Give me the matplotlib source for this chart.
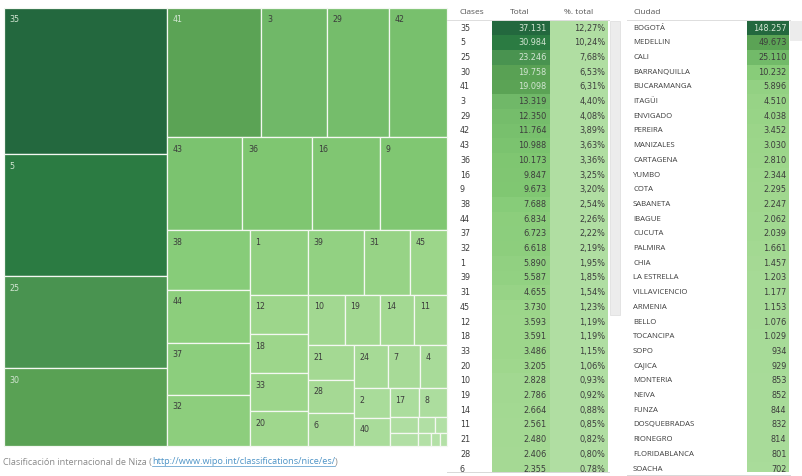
import matplotlib
matplotlib.use("Agg")
import matplotlib.pyplot as plt
from matplotlib.patches import Rectangle
from matplotlib.colors import LinearSegmentedColormap, Normalize, PowerNorm

plt.rcParams['font.family'] = ['Open Sans', 'DejaVu Sans']
NUM_FONT = ['DejaVu Sans']

# Registros por clase de Niza (ordenados de mayor a menor)
clases = [35, 5, 25, 30, 41, 3, 29, 42, 43, 36, 16, 9, 38, 44, 37, 32, 1, 39, 31, 45,
          12, 18, 33, 20, 10, 19, 14, 11, 21, 28, 6, 24, 7, 4, 2, 40, 17, 8,
          13, 15, 22, 34, 23, 26, 27]
totales = [37131, 30984, 23246, 19758, 19098, 13319, 12350, 11764, 10988, 10173,
           9847, 9673, 7688, 6834, 6723, 6618, 5890, 5587, 4655, 3730,
           3593, 3591, 3486, 3205, 2828, 2786, 2664, 2561, 2480, 2406, 2355,
           2260, 2120, 1830, 1640, 1580, 1300, 1250,
           730, 560, 420, 320, 250, 180, 130]

# Registros por ciudad
ciudades = ['BOGOTÁ', 'MEDELLIN', 'CALI', 'BARRANQUILLA', 'BUCARAMANGA', 'ITAGÜI',
            'ENVIGADO', 'PEREIRA', 'MANIZALES', 'CARTAGENA', 'YUMBO', 'COTA',
            'SABANETA', 'IBAGUE', 'CUCUTA', 'PALMIRA', 'CHIA', 'LA ESTRELLA',
            'VILLAVICENCIO', 'ARMENIA', 'BELLO', 'TOCANCIPA', 'SOPO', 'CAJICA',
            'MONTERIA', 'NEIVA', 'FUNZA', 'DOSQUEBRADAS', 'RIONEGRO',
            'FLORIDABLANCA', 'SOACHA']
ciudad_totales = [148257, 49673, 25110, 10232, 5896, 4510, 4038, 3452, 3030, 2810,
                  2344, 2295, 2247, 2062, 2039, 1661, 1457, 1203, 1177, 1153,
                  1076, 1029, 934, 929, 853, 852, 844, 832, 814, 801, 702]

gran_total = sum(totales)
filas_visibles = 31

cmap = LinearSegmentedColormap.from_list('verdes', [
    (0.0, '#b3e0a6'), (0.09, '#9dd68b'), (0.2, '#88cc79'), (0.29, '#7cc46f'),
    (0.36, '#6fb768'), (0.51, '#5ca455'), (0.62, '#4a9350'), (0.83, '#2b7c42'),
    (1.0, '#23683e')])
norm = Normalize(vmin=min(totales), vmax=max(totales))
norm_ciudad = PowerNorm(gamma=0.6, vmin=0, vmax=max(ciudad_totales))


def miles(v):
    return f"{v:,}".replace(",", ".")


def aspect(row, side):
    t = sum(row) / side
    return [max(t / (a / t), (a / t) / t) for a in row]


def squarify(values, x, y, w, h, max_ratio=2.3):
    total = sum(values)
    areas = [v / total * w * h for v in values]
    rects = []
    i = 0
    while i < len(areas):
        side = h if w >= h else w
        row = [areas[i]]
        j = i + 1
        while j < len(areas):
            cand = row + [areas[j]]
            r_new = aspect(cand, side)
            if max(r_new) <= max(aspect(row, side)) or r_new[-1] <= max_ratio:
                row = cand
                j += 1
            else:
                break
        t = sum(row) / side
        pos = 0
        for a in row:
            length = a / t
            if w >= h:
                rects.append((x, y + pos, t, length))
            else:
                rects.append((x + pos, y, length, t))
            pos += length
        if w >= h:
            x += t
            w -= t
        else:
            y += t
            h -= t
        i = j
    return rects


fig = plt.figure(figsize=(8.02, 4.76), dpi=100)
ax = fig.add_axes([0, 0, 1, 1])
ax.set_xlim(0, 802)
ax.set_ylim(476, 0)
ax.axis('off')

# --- treemap ---
rects = squarify(totales, 4, 8, 443, 438)
for c, v, (rx, ry, rw, rh) in zip(clases, totales, rects):
    ax.add_patch(Rectangle((rx, ry), rw, rh, facecolor=cmap(norm(v)),
                           edgecolor='#f4f8f2', lw=0.9))
    if rw > 18 and rh > 18:
        col = '#d3e6d3' if v > 15000 else '#3c3c3c'
        ax.text(rx + 5.5, ry + 12, str(c), fontsize=5.7, color=col,
                family=NUM_FONT, ha='left', va='center')

# footer
t1 = ax.text(3, 462, "Clasificación internacional de Niza (", fontsize=6.6,
             color='#8a8a8a', ha='left', va='center')
t2 = ax.annotate("http://www.wipo.int/classifications/nice/es/", xy=(1, 0),
                 xycoords=t1, fontsize=6.6, color='#4d93c6', ha='left', va='bottom')
t3 = ax.annotate(")", xy=(1, 0), xycoords=t2, fontsize=6.6, color='#8a8a8a',
                 ha='left', va='bottom')
fig.canvas.draw()
bb = t2.get_window_extent().transformed(ax.transData.inverted())
ax.plot([bb.x0, bb.x1], [bb.y0 - 0.3, bb.y0 - 0.3], color='#4d93c6', lw=0.5)

# --- tabla de clases ---
y0 = 20.7
rh = 14.7
ax.text(460, 13, "Clases", fontsize=6, color='#555555', ha='left', va='center')
ax.text(520, 13, "Total", fontsize=6, color='#555555', ha='center', va='center')
ax.text(579, 13, "%. total", fontsize=6, color='#555555', ha='center', va='center')
ax.plot([447, 609], [20.2, 20.2], color='#dddddd', lw=0.7)
for i in range(filas_visibles):
    c, v = clases[i], totales[i]
    top = y0 + i * rh
    yc = top + rh / 2
    ax.add_patch(Rectangle((491.7, top), 58.3, rh, facecolor=cmap(norm(v)), lw=0))
    ax.add_patch(Rectangle((550, top), 58, rh, facecolor='#b0dea2', lw=0))
    ax.text(460, yc, str(c), fontsize=5.8, color='#3c3c3c', family=NUM_FONT,
            ha='left', va='center')
    col = '#d3e6d3' if v > 15000 else '#3c3c3c'
    ax.text(546.5, yc, miles(v), fontsize=5.9, color=col, family=NUM_FONT,
            ha='right', va='center')
    pct = f"{v / gran_total * 100:.2f}%".replace(".", ",")
    ax.text(605.5, yc, pct, fontsize=5.9, color='#3c3c3c', family=NUM_FONT,
            ha='right', va='center')
ax.add_patch(Rectangle((609.5, 20.5), 10.5, 294.5, facecolor='#ececec',
                       edgecolor='#dcdcdc', lw=0.5))

# --- tabla de ciudades ---
ax.text(633, 13, "Ciudad", fontsize=6, color='#555555', ha='left', va='center')
ax.plot([627, 790], [20.2, 20.2], color='#dddddd', lw=0.7)
for i in range(filas_visibles):
    v = ciudad_totales[i]
    top = y0 + i * rh
    yc = top + rh / 2
    ax.add_patch(Rectangle((747.3, top), 42, rh, facecolor=cmap(norm_ciudad(v)), lw=0))
    ax.text(633, yc, ciudades[i], fontsize=5.6, color='#3c3c3c', ha='left', va='center')
    col = '#d3e6d3' if v > 100000 else '#3c3c3c'
    ax.text(786.5, yc, miles(v), fontsize=5.9, color=col, family=NUM_FONT,
            ha='right', va='center')
ax.add_patch(Rectangle((790, 20.5), 12, 20, facecolor='#ececec', lw=0))

# recorte inferior de las tablas
ax.add_patch(Rectangle((447, 472), 355, 5, facecolor='white', lw=0, zorder=5))
ax.plot([447, 609], [472, 472], color='#d8d8d8', lw=0.7, zorder=6)
ax.plot([627, 790], [474.5, 474.5], color='#d8d8d8', lw=0.7, zorder=6)

fig.savefig('out.png', dpi=100)
